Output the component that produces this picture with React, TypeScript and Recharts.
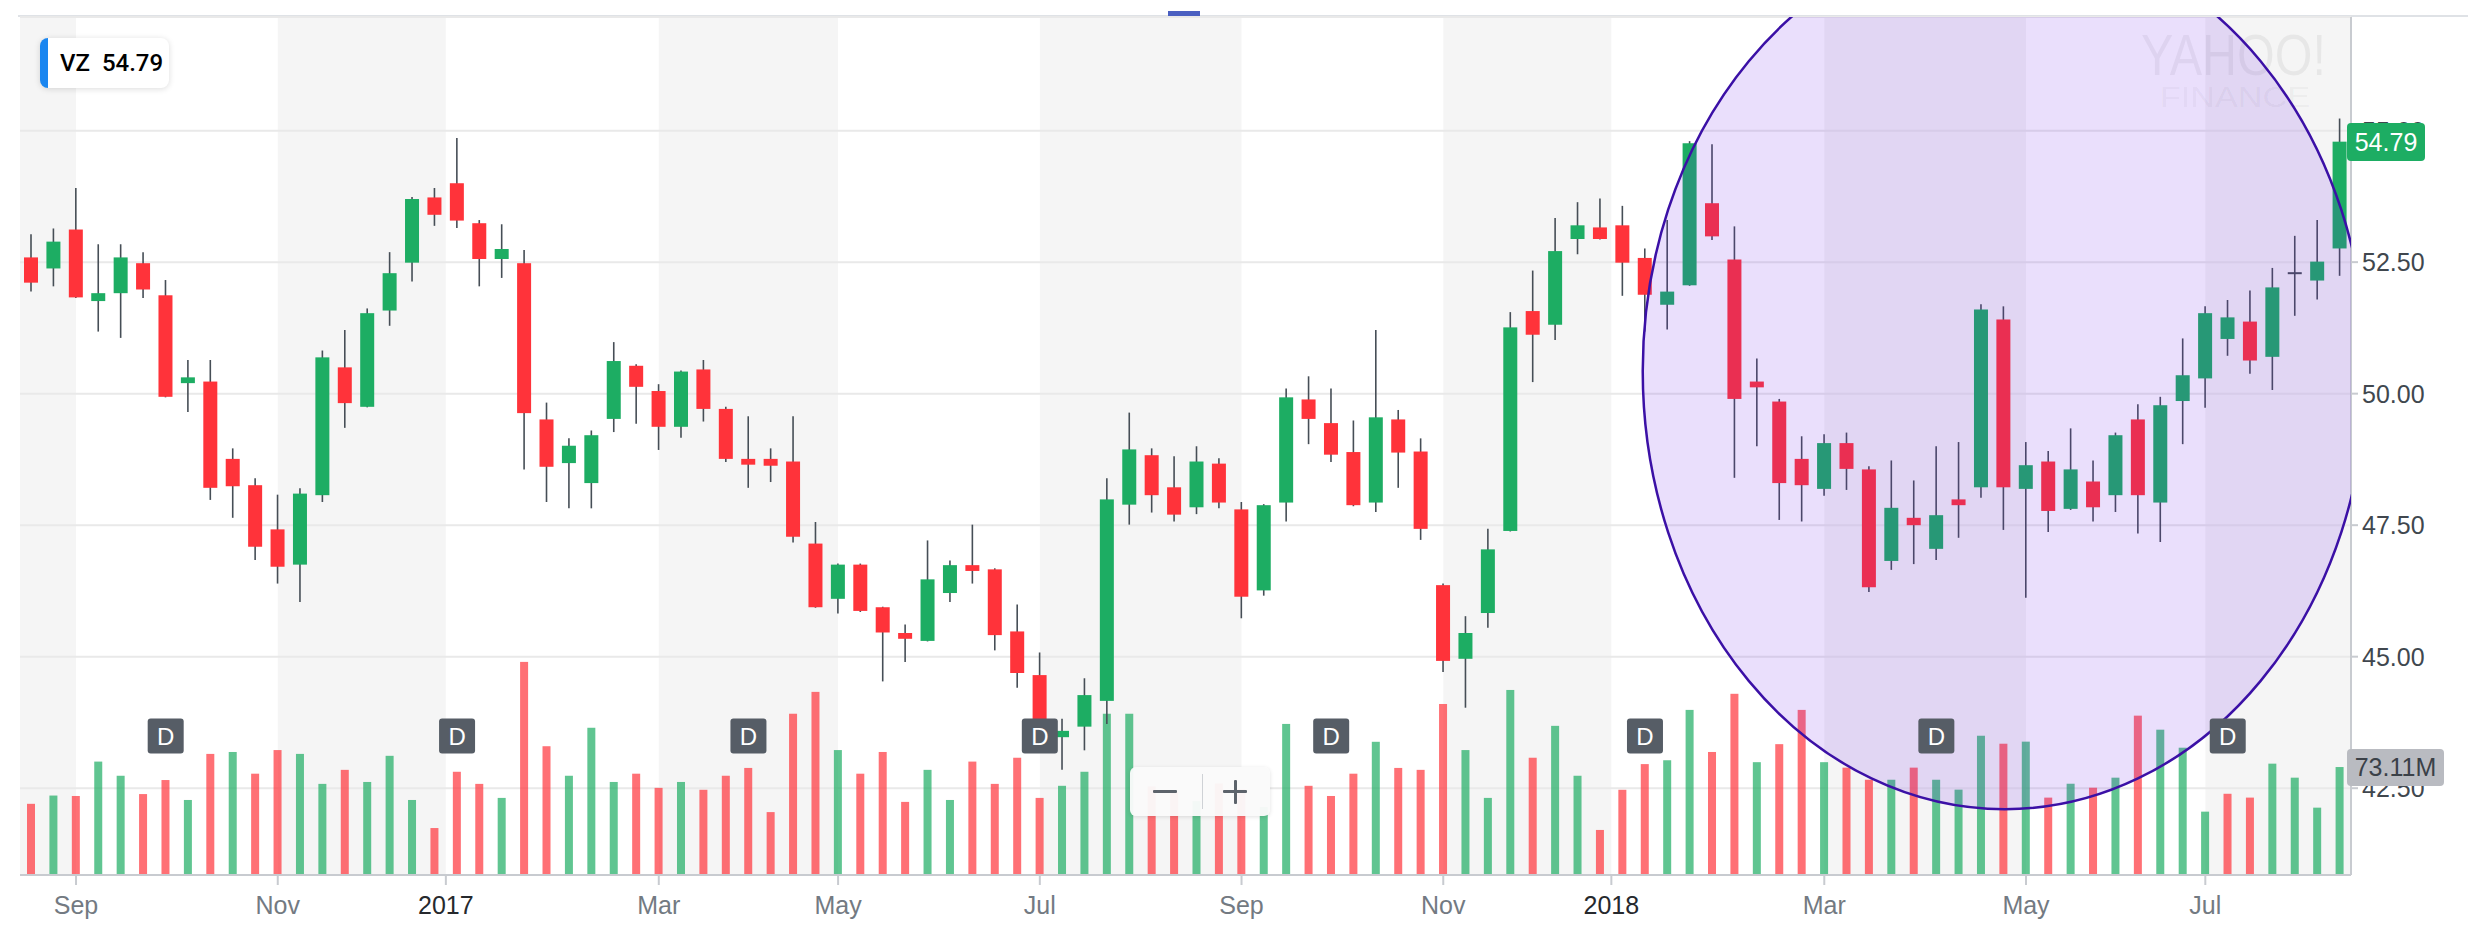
import React from 'react';
import { ComposedChart, Bar, XAxis, YAxis, CartesianGrid, ReferenceArea, ReferenceDot } from 'recharts';

// VZ weekly candles, Aug 2016 - Aug 2018
const opens = [
  52.59, 52.38, 53.12, 51.76, 51.91, 52.48, 51.87, 50.2, 50.23, 48.76,
  48.26, 47.42, 46.75, 48.07, 50.5, 49.75, 51.58, 52.49, 53.73, 54.0,
  53.24, 52.56, 52.48, 49.51, 48.68, 48.3, 49.52, 50.53, 50.05, 49.37,
  50.46, 49.71, 48.76, 48.76, 48.71, 47.15, 46.1, 46.75, 45.94, 45.45,
  45.3, 46.21, 46.74, 46.66, 45.48, 44.65, 43.47, 43.67, 44.16, 47.89,
  48.83, 48.22, 47.84, 48.67, 47.8, 46.26, 47.93, 49.89, 49.44, 48.89,
  47.93, 49.51, 48.9, 46.36, 44.96, 45.83, 47.39, 51.57, 51.31, 52.94,
  53.16, 53.2, 52.58, 51.69, 52.06, 53.62, 52.55, 50.23, 49.85, 48.76,
  48.19, 49.06, 48.56, 46.82, 47.64, 47.05, 47.99, 48.22, 51.41, 48.19,
  48.71, 47.81, 48.33, 48.07, 49.51, 47.93, 49.86, 50.29, 51.04, 51.37,
  50.7, 52.27, 52.15, 52.76,
];
const highs = [
  53.03, 53.14, 53.91, 52.84, 52.84, 52.69, 52.16, 50.64, 50.64, 48.96,
  48.39, 48.08, 48.2, 50.82, 51.21, 51.62, 52.69, 53.74, 53.91, 54.86,
  53.3, 53.22, 52.73, 49.83, 49.15, 49.3, 50.98, 50.56, 50.18, 50.44,
  50.64, 49.75, 49.57, 48.96, 49.57, 47.56, 46.77, 46.77, 45.95, 45.61,
  47.21, 46.83, 47.51, 46.68, 45.99, 45.08, 43.82, 44.59, 48.39, 49.64,
  48.96, 48.81, 49.0, 48.77, 47.94, 47.9, 50.1, 50.33, 50.1, 49.49,
  51.21, 49.69, 49.15, 46.39, 45.77, 47.43, 51.55, 52.34, 53.34, 53.64,
  53.71, 53.57, 52.76, 53.3, 54.8, 54.74, 53.18, 50.67, 49.9, 49.19,
  49.23, 49.26, 48.62, 48.73, 48.35, 49.0, 49.08, 51.7, 51.66, 49.08,
  48.91, 49.34, 48.73, 49.26, 49.8, 49.94, 51.05, 51.66, 51.78, 51.96,
  52.39, 53.0, 53.3, 55.23,
];
const lows = [
  51.94, 52.04, 51.82, 51.18, 51.06, 51.82, 49.93, 49.65, 47.98, 47.64,
  46.84, 46.39, 46.04, 47.94, 49.35, 49.74, 51.29, 52.13, 53.19, 53.15,
  52.04, 52.2, 48.56, 47.94, 47.82, 47.82, 49.27, 49.43, 48.93, 49.16,
  49.47, 48.7, 48.21, 48.32, 47.17, 45.93, 45.82, 45.85, 44.53, 44.9,
  45.29, 46.04, 46.39, 45.12, 44.41, 43.26, 42.85, 43.22, 43.72, 47.51,
  47.74, 47.57, 47.71, 47.82, 45.73, 46.16, 47.57, 49.04, 48.7, 47.86,
  47.75, 48.21, 47.22, 44.71, 44.03, 45.55, 47.38, 50.22, 51.02, 52.65,
  52.93, 51.86, 51.18, 51.22, 52.05, 52.92, 48.4, 49.0, 47.6, 47.57,
  48.06, 48.17, 46.23, 46.65, 46.76, 46.84, 47.26, 48.02, 47.41, 46.12,
  47.37, 47.79, 47.57, 47.75, 47.34, 47.18, 49.04, 49.73, 50.72, 50.38,
  50.07, 51.48, 51.79, 52.24,
];
const closes = [
  52.11, 52.89, 51.83, 51.91, 52.59, 51.98, 49.94, 50.31, 48.21, 48.24,
  47.09, 46.71, 48.1, 50.69, 49.82, 51.53, 52.29, 53.7, 53.4, 53.29,
  52.56, 52.75, 49.63, 48.61, 49.01, 49.21, 50.62, 50.13, 49.37, 50.42,
  49.71, 48.76, 48.65, 48.63, 47.28, 45.94, 46.75, 45.87, 45.46, 45.34,
  46.47, 46.74, 46.63, 45.41, 44.69, 43.55, 43.59, 44.27, 47.99, 48.94,
  48.07, 47.7, 48.71, 47.93, 46.14, 47.88, 49.93, 49.52, 48.84, 47.88,
  49.55, 48.88, 47.43, 44.92, 45.45, 47.04, 51.26, 51.12, 52.71, 53.2,
  52.94, 52.49, 51.88, 51.94, 54.76, 52.99, 49.9, 50.12, 48.3, 48.26,
  49.06, 48.57, 46.32, 47.83, 47.5, 47.69, 47.88, 51.6, 48.22, 48.64,
  47.77, 48.56, 47.84, 49.21, 48.07, 49.78, 50.35, 51.53, 51.45, 50.63,
  52.02, 52.29, 52.51, 54.79,
];
// weekly volume, millions
const volumes = [
  48.2, 53.8, 53.5, 76.8, 67.2, 54.8, 64.3, 50.8, 82.0, 83.3,
  68.6, 84.6, 82.0, 61.7, 71.2, 63.0, 80.7, 50.8, 31.8, 69.9,
  61.7, 52.2, 144.3, 87.2, 67.2, 99.7, 63.0, 68.6, 59.0, 63.0,
  57.7, 67.2, 72.5, 42.6, 109.2, 124.0, 84.6, 68.6, 83.3, 49.5,
  71.2, 50.8, 76.8, 61.7, 79.4, 52.2, 60.4, 69.9, 109.2, 109.2,
  60.0, 56.0, 50.0, 62.0, 58.0, 46.0, 102.3, 60.4, 53.5, 68.6,
  90.2, 72.5, 71.2, 115.8, 84.6, 52.2, 125.3, 79.4, 101.0, 67.2,
  30.5, 57.7, 75.1, 77.7, 111.8, 83.3, 122.7, 76.4, 88.6, 111.8,
  76.4, 72.7, 64.5, 64.5, 72.7, 64.5, 57.8, 94.3, 88.9, 90.3,
  52.4, 61.8, 59.1, 65.9, 107.9, 98.4, 86.2, 42.9, 55.0, 52.4,
  75.4, 65.9, 45.6, 73.11,
];

// month ticks sit on the first full week of each month (years between weeks)
const monthTicks = [2, 11, 18.5, 28, 36, 45, 54, 63, 70.5, 80, 89, 97];
const monthLabels = ['Sep', 'Nov', '2017', 'Mar', 'May', 'Jul', 'Sep', 'Nov', '2018', 'Mar', 'May', 'Jul'];
const priceTicks = [42.5, 45, 47.5, 50, 52.5, 55];
const dividendWeeks = [6, 19, 32, 45, 58, 72, 85, 98];
const dividendLevel = 43.49;
const lastPrice = 54.79;
const lastVolume = 73.11;
// user-drawn ellipse annotation, in week / price units
const ellipseBox = { x1: 71.9, x2: 104.2, y1: 42.1, y2: 58.76 };

const W = 2468;
const H = 942;
const M = { top: 17, right: 17, bottom: 27, left: 20 };
const Y_AXIS_W = 100;
const X_AXIS_H = 40;
const X_DOMAIN: [number, number] = [-0.5, 103.5];
const P_DOMAIN: [number, number] = [40.85, 57.16];
const V_DOMAIN: [number, number] = [0, 581];

const GREEN = '#1dad63';
const RED = '#ff333a';
const WICK = '#464e56';
const AXIS = '#c8cbd0';
const FONT = '"Liberation Sans", Arial, Helvetica, sans-serif';

const plotTop = M.top;
const plotBottom = H - M.bottom - X_AXIS_H;
const plotH = plotBottom - plotTop;
const plotRight = W - M.right - Y_AXIS_W;
const priceY = (p: number) => plotTop + ((P_DOMAIN[1] - p) / (P_DOMAIN[1] - P_DOMAIN[0])) * plotH;
const volY = (v: number) => plotBottom - (v / V_DOMAIN[1]) * plotH;

const data = opens.map((open, i) => ({
  i,
  open,
  high: highs[i],
  low: lows[i],
  close: closes[i],
  range: [lows[i], highs[i]],
  vol: volumes[i],
  volUp: i === 0 ? closes[i] >= open : closes[i] >= closes[i - 1],
}));

const shadedBands: [number, number][] = [[X_DOMAIN[0], monthTicks[0]]];
for (let k = 1; k < monthTicks.length; k += 2) {
  shadedBands.push([monthTicks[k], k + 1 < monthTicks.length ? monthTicks[k + 1] : X_DOMAIN[1]]);
}

const CandleShape = (props: any) => {
  const { x, y, width, height, payload } = props;
  if (x == null || !payload) return null;
  const top = Math.min(y, y + height);
  const h = Math.abs(height);
  const k = h / (payload.high - payload.low);
  const cx = x + width / 2;
  const up = payload.close >= payload.open;
  let bodyTop = top + (payload.high - Math.max(payload.open, payload.close)) * k;
  let bodyH = Math.abs(payload.close - payload.open) * k;
  const doji = bodyH < 2;
  if (doji) {
    bodyTop -= 1;
    bodyH = 2;
  }
  return (
    <g>
      <line x1={cx} x2={cx} y1={top} y2={top + h} stroke={WICK} strokeWidth={1.6} />
      <rect x={x} y={bodyTop} width={width} height={bodyH} fill={doji ? WICK : up ? GREEN : RED} />
    </g>
  );
};

const VolumeShape = (props: any) => {
  const { x, y, width, height, payload } = props;
  if (x == null || !payload) return null;
  return (
    <rect
      x={x}
      y={Math.min(y, y + height)}
      width={width}
      height={Math.abs(height)}
      fill={payload.volUp ? GREEN : RED}
      fillOpacity={0.7}
    />
  );
};

const EllipseShape = (props: any) => {
  const { x, y, width, height, clipPath } = props;
  return (
    <ellipse
      cx={x + width / 2}
      cy={y + height / 2}
      rx={Math.abs(width) / 2}
      ry={Math.abs(height) / 2}
      fill="rgb(105,30,235)"
      fillOpacity={0.14}
      stroke="#3b10a6"
      strokeWidth={2.5}
      clipPath={clipPath}
    />
  );
};

const DividendMarker = (props: any) => {
  const { cx, cy } = props;
  if (cx == null) return null;
  return (
    <g>
      <rect x={cx - 18} y={cy - 17.5} width={36} height={35} rx={3} fill="#565d66" />
      <text x={cx} y={cy + 8.5} textAnchor="middle" fill="#ffffff" fontSize={24} fontFamily={FONT}>
        D
      </text>
    </g>
  );
};

const MonthTick = (props: any) => {
  const { x, y, payload } = props;
  const label = monthLabels[monthTicks.indexOf(payload.value)] ?? '';
  const isYear = /^\d{4}$/.test(label);
  return (
    <text x={x} y={y + 27} textAnchor="middle" fontFamily={FONT} fontSize={25} fill={isYear ? '#26292d' : '#737a82'}>
      {label}
    </text>
  );
};

export default function App() {
  return (
    <div style={{ position: 'absolute', left: 0, top: 0, width: W, height: H, background: '#fff', overflow: 'hidden' }}>
      {/* header rule + active tab marker */}
      <div style={{ position: 'absolute', left: 18, top: 15, width: W - 18, height: 2, background: '#dfe2e6' }} />
      <div style={{ position: 'absolute', left: 1168, top: 11, width: 32, height: 6, background: '#4a5fc1' }} />

      {/* watermark sits under the chart */}
      <svg width={W} height={H} style={{ position: 'absolute', left: 0, top: 0 }}>
        <text
          x={2141}
          y={75}
          fontFamily='"Liberation Sans Narrow", "Liberation Sans", sans-serif'
          fontSize={58}
          textLength={185}
          lengthAdjust="spacingAndGlyphs"
          fill="rgba(0,0,0,0.055)"
        >
          YAHOO!
        </text>
        <text
          x={2160}
          y={107}
          fontFamily={FONT}
          fontSize={30}
          textLength={150}
          lengthAdjust="spacingAndGlyphs"
          fill="rgba(0,0,0,0.055)"
        >
          FINANCE
        </text>
      </svg>

      <div style={{ position: 'absolute', left: 0, top: 0 }}>
        <ComposedChart width={W} height={H} data={data} margin={M}>
          {shadedBands.map(([a, b], k) => (
            <ReferenceArea
              key={`band-${k}`}
              xAxisId="main"
              yAxisId="price"
              x1={a}
              x2={b}
              fill="#000"
              fillOpacity={0.04}
              stroke="none"
              ifOverflow="hidden"
              zIndex={-150}
            />
          ))}
          <CartesianGrid xAxisId="main" yAxisId="price" vertical={false} stroke="#e9e9e9" strokeWidth={2} />
          <XAxis
            xAxisId="main"
            dataKey="i"
            type="number"
            domain={X_DOMAIN}
            ticks={monthTicks}
            interval={0}
            allowDataOverflow
            tick={(p: any) => <MonthTick {...p} />}
            tickSize={10}
            tickLine={{ stroke: AXIS, strokeWidth: 2 }}
            axisLine={{ stroke: AXIS, strokeWidth: 2 }}
            height={X_AXIS_H}
          />
          <XAxis xAxisId="vol" dataKey="i" type="number" domain={X_DOMAIN} allowDataOverflow hide />
          <YAxis
            yAxisId="price"
            orientation="right"
            domain={P_DOMAIN}
            ticks={priceTicks}
            interval={0}
            allowDataOverflow
            tickFormatter={(v: number) => v.toFixed(2)}
            width={Y_AXIS_W}
            tickSize={7}
            tickMargin={4}
            tick={{ fill: '#40474e', fontSize: 25, fontFamily: FONT }}
            tickLine={{ stroke: AXIS, strokeWidth: 2 }}
            axisLine={{ stroke: AXIS, strokeWidth: 2 }}
          />
          <YAxis yAxisId="vol" domain={V_DOMAIN} allowDataOverflow hide />
          <Bar xAxisId="vol" yAxisId="vol" dataKey="vol" barSize={8} shape={VolumeShape} isAnimationActive={false} />
          <Bar xAxisId="main" yAxisId="price" dataKey="range" barSize={14} shape={CandleShape} isAnimationActive={false} />
          <ReferenceArea
            xAxisId="main"
            yAxisId="price"
            x1={ellipseBox.x1}
            x2={ellipseBox.x2}
            y1={ellipseBox.y1}
            y2={ellipseBox.y2}
            ifOverflow="hidden"
            shape={EllipseShape}
            zIndex={700}
          />
          {dividendWeeks.map((w) => (
            <ReferenceDot
              key={`div-${w}`}
              xAxisId="main"
              yAxisId="price"
              x={w}
              y={dividendLevel}
              ifOverflow="visible"
              shape={DividendMarker}
              zIndex={800}
            />
          ))}
        </ComposedChart>
      </div>

      {/* legend chip */}
      <div
        style={{
          position: 'absolute',
          left: 40,
          top: 38,
          width: 129,
          height: 50,
          background: '#fff',
          borderRadius: 8,
          boxShadow: '0 1px 6px rgba(0,0,0,0.14)',
          borderLeft: '8px solid #1a86f0',
          boxSizing: 'border-box',
          fontFamily: 'Roboto, "Liberation Sans", sans-serif',
          fontWeight: 500,
          fontSize: 24,
          lineHeight: '50px',
          color: '#000',
          paddingLeft: 12,
          whiteSpace: 'nowrap',
        }}
      >
        VZ&nbsp;&nbsp;{lastPrice.toFixed(2)}
      </div>

      {/* last price badge */}
      <div
        style={{
          position: 'absolute',
          left: plotRight - 4,
          top: priceY(lastPrice) - 19,
          width: 78,
          height: 38,
          background: GREEN,
          borderRadius: 4,
          color: '#fff',
          fontFamily: FONT,
          fontSize: 25,
          lineHeight: '38px',
          textAlign: 'center',
        }}
      >
        {lastPrice.toFixed(2)}
      </div>

      {/* last volume badge */}
      <div
        style={{
          position: 'absolute',
          left: plotRight - 4,
          top: volY(lastVolume) - 18.5,
          width: 97,
          height: 37,
          background: '#b9bbc1',
          borderRadius: 4,
          color: '#3b4148',
          fontFamily: FONT,
          fontSize: 25,
          lineHeight: '37px',
          textAlign: 'center',
        }}
      >
        {lastVolume.toFixed(2)}M
      </div>

      {/* zoom control */}
      <div
        style={{
          position: 'absolute',
          left: 1130,
          top: 767,
          width: 140,
          height: 49,
          background: 'rgba(250,250,250,0.96)',
          borderRadius: 6,
          boxShadow: '0 1px 4px rgba(0,0,0,0.12)',
        }}
      >
        <div style={{ position: 'absolute', left: 23, top: 23, width: 24, height: 3, background: '#5c636b', borderRadius: 1 }} />
        <div style={{ position: 'absolute', left: 72, top: 7, width: 1, height: 35, background: '#cfd2d6' }} />
        <div style={{ position: 'absolute', left: 93, top: 23, width: 24, height: 3, background: '#5c636b', borderRadius: 1 }} />
        <div style={{ position: 'absolute', left: 103.5, top: 12.5, width: 3, height: 24, background: '#5c636b', borderRadius: 1 }} />
      </div>
    </div>
  );
}
